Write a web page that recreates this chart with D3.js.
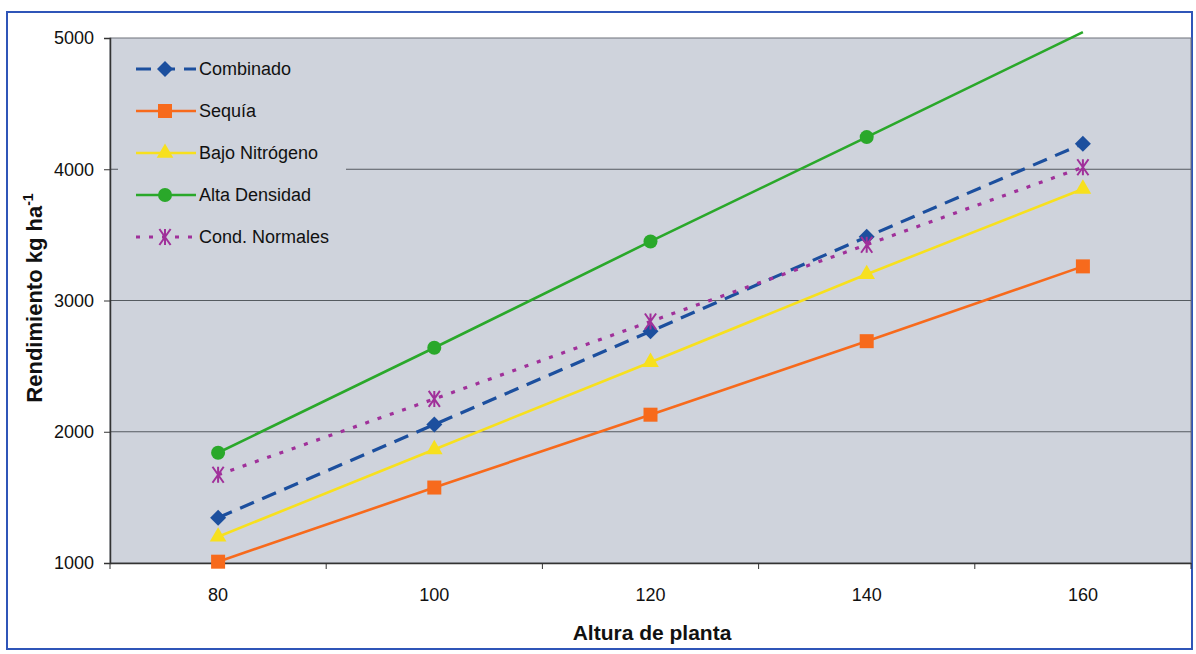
<!DOCTYPE html>
<html>
<head>
<meta charset="utf-8">
<script src="https://cdn.jsdelivr.net/npm/d3@7"></script>
<style>
  html, body { margin: 0; padding: 0; background: #fff; }
  svg { display: block; font-family: "Liberation Sans", Arial, sans-serif; }
</style>
</head>
<body>
<svg id="chart" width="1196" height="654"></svg>
<script>
// --- data ---
const categories = [80, 100, 120, 140, 160];
const combinado = [1345, 2055, 2765, 3485, 4195];
const sequia = [1010, 1575, 2130, 2690, 3260];
const bajoNitrogeno = [1200, 1865, 2530, 3200, 3850];
const altaDensidad = [1840, 2640, 3450, 4245, 5045];
const condNormales = [1672, 2250, 2840, 3425, 4015];
const yTicks = [1000, 2000, 3000, 4000, 5000];

const seriesNames = ['Combinado', 'Sequía', 'Bajo Nitrógeno', 'Alta Densidad', 'Cond. Normales'];
const seriesValues = [combinado, sequia, bajoNitrogeno, altaDensidad, condNormales];

// --- styles per series ---
const STYLE = [
  { color: '#1c4f9e', width: 3.2, dash: '15,9', marker: 'diamond' },
  { color: '#f76a1c', width: 2.6, dash: null, marker: 'square' },
  { color: '#f7e01e', width: 2.6, dash: null, marker: 'triangle' },
  { color: '#2aa82a', width: 2.6, dash: null, marker: 'circle' },
  { color: '#a0309a', width: 3.2, dash: '4,9', marker: 'asterisk' }
];

const PLOT = { left: 110, top: 38, right: 1191, bottom: 563 };
const PLOT_BG = '#cfd3dc';

const svg = d3.select('#chart');

// outer frame
svg.append('rect').attr('x', 7).attr('y', 12).attr('width', 1185).attr('height', 637)
  .attr('fill', '#fff').attr('stroke', '#2f55b8').attr('stroke-width', 2);

const x = d3.scaleBand().domain(categories).range([PLOT.left, PLOT.right]);
const y = d3.scaleLinear().domain([1000, 5000]).range([PLOT.bottom, PLOT.top]);

// plot area
svg.append('rect').attr('x', PLOT.left).attr('y', PLOT.top)
  .attr('width', PLOT.right - PLOT.left).attr('height', PLOT.bottom - PLOT.top)
  .attr('fill', PLOT_BG).attr('stroke', '#6f737a').attr('stroke-width', 1);

// gridlines
svg.append('g').selectAll('line').data(yTicks.filter(d => d > 1000 && d < 5000)).join('line')
  .attr('x1', PLOT.left).attr('x2', PLOT.right)
  .attr('y1', d => y(d)).attr('y2', d => y(d))
  .attr('stroke', '#555a60').attr('stroke-width', 1);

// y axis
const yAxis = svg.append('g').attr('transform', `translate(${PLOT.left},0)`)
  .call(d3.axisLeft(y).tickValues(yTicks).tickSize(6).tickPadding(10).tickFormat(d3.format('d')));
yAxis.select('.domain').attr('stroke', '#333').attr('stroke-width', 1.5);
yAxis.selectAll('.tick line').attr('stroke', '#333');
yAxis.selectAll('text').attr('font-size', 18).attr('fill', '#111')
  .attr('font-family', '"Liberation Sans", Arial, sans-serif');

// x axis: labels at category centres, ticks at category edges
const xAxis = svg.append('g').attr('transform', `translate(0,${PLOT.bottom})`)
  .call(d3.axisBottom(x).tickSize(0).tickPadding(25));
xAxis.select('.domain').attr('stroke', '#333').attr('stroke-width', 1.5);
xAxis.selectAll('text').attr('font-size', 18).attr('fill', '#111')
  .attr('font-family', '"Liberation Sans", Arial, sans-serif');
const edges = categories.map(c => x(c)).concat([x(categories[categories.length - 1]) + x.bandwidth()]);
svg.append('g').selectAll('line').data(edges).join('line')
  .attr('x1', d => d).attr('x2', d => d)
  .attr('y1', PLOT.bottom).attr('y2', PLOT.bottom + 6)
  .attr('stroke', '#333').attr('stroke-width', 1);

// axis titles
svg.append('text').attr('x', 652).attr('y', 640).attr('text-anchor', 'middle')
  .attr('font-size', 21).attr('font-weight', 'bold').attr('fill', '#111')
  .text('Altura de planta');

const yTitle = svg.append('text').attr('transform', 'translate(42,298) rotate(-90)')
  .attr('text-anchor', 'middle').attr('font-size', 22).attr('font-weight', 'bold').attr('fill', '#111');
yTitle.append('tspan').text('Rendimiento kg ha');
yTitle.append('tspan').attr('dy', -9).attr('font-size', 14).text('-1');

// marker drawing
function drawMarker(g, type, color, cx, cy) {
  if (type === 'diamond') {
    const r = 8;
    g.append('path').attr('d', `M${cx},${cy - r}L${cx + r},${cy}L${cx},${cy + r}L${cx - r},${cy}Z`)
      .attr('fill', color);
  } else if (type === 'square') {
    g.append('rect').attr('x', cx - 7).attr('y', cy - 7).attr('width', 14).attr('height', 14).attr('fill', color);
  } else if (type === 'triangle') {
    g.append('path').attr('d', d3.symbol(d3.symbolTriangle, 120)())
      .attr('transform', `translate(${cx},${cy})`).attr('fill', color);
  } else if (type === 'circle') {
    g.append('circle').attr('cx', cx).attr('cy', cy).attr('r', 7).attr('fill', color);
  } else if (type === 'asterisk') {
    const r = 8;
    const p = `M${cx - r * 0.7},${cy - r}L${cx + r * 0.7},${cy + r}M${cx + r * 0.7},${cy - r}L${cx - r * 0.7},${cy + r}M${cx},${cy - r}L${cx},${cy + r}`;
    g.append('path').attr('d', p).attr('stroke', color).attr('stroke-width', 2).attr('fill', 'none');
  }
}

// series lines and markers
const line = d3.line().x((d, i) => x(categories[i]) + x.bandwidth() / 2).y(d => y(d));
const order = [3, 0, 4, 2, 1];
const seriesG = svg.append('g');
order.forEach(s => {
  const st = STYLE[s];
  seriesG.append('path').datum(seriesValues[s]).attr('d', line)
    .attr('fill', 'none').attr('stroke', st.color).attr('stroke-width', st.width)
    .attr('stroke-dasharray', st.dash);
});
order.forEach(s => {
  const st = STYLE[s];
  seriesValues[s].forEach((v, i) => {
    if (v > 5000) return; // point sits above the plot area: no marker
    drawMarker(seriesG, st.marker, st.color, x(categories[i]) + x.bandwidth() / 2, y(v));
  });
});

// legend (box with plot colour hides gridline behind it)
const legend = svg.append('g');
legend.append('rect').attr('x', 118).attr('y', 46).attr('width', 228).attr('height', 212).attr('fill', PLOT_BG);
seriesNames.forEach((name, i) => {
  const st = STYLE[i];
  const ly = 69 + i * 42;
  legend.append('line').attr('x1', 136).attr('x2', 196).attr('y1', ly).attr('y2', ly)
    .attr('stroke', st.color).attr('stroke-width', st.width)
    .attr('stroke-dasharray', st.dash);
  drawMarker(legend, st.marker, st.color, 165, ly);
  legend.append('text').attr('x', 199).attr('y', ly + 6).attr('font-size', 18).attr('fill', '#111').text(name);
});
</script>
</body>
</html>
